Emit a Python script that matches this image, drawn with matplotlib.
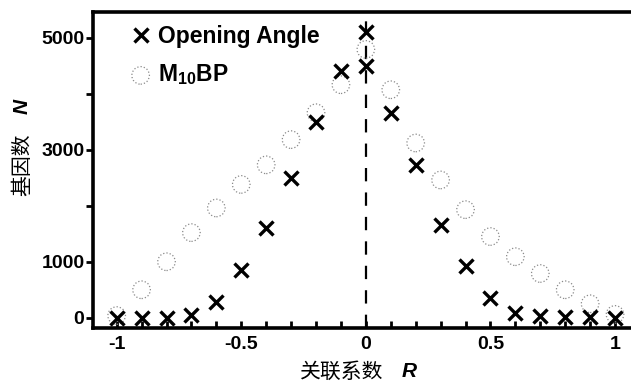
import matplotlib.pyplot as plt
import numpy as np

plt.rcParams['font.family'] = ['Liberation Sans', 'DejaVu Sans']
plt.rcParams['mathtext.fontset'] = 'custom'
plt.rcParams['mathtext.bf'] = 'Liberation Sans:bold'
plt.rcParams['mathtext.rm'] = 'Liberation Sans:bold'

# correlation coefficient bins
r = [-1.0, -0.9, -0.8, -0.7, -0.6, -0.5, -0.4, -0.3, -0.2, -0.1, 0.0,
     0.1, 0.2, 0.3, 0.4, 0.5, 0.6, 0.7, 0.8, 0.9, 1.0]
# Opening Angle (two points at R=0)
oa_r = r[:10] + [0.0, 0.0] + r[11:]
oa_n = [0, 0, 0, 50, 290, 860, 1610, 2500, 3500, 4400, 5100, 4500,
        3660, 2730, 1660, 930, 360, 90, 30, 10, 10, 0]
# M10BP
m10_n = [40, 500, 1000, 1520, 1960, 2380, 2730, 3180, 3660, 4160, 4790,
         4070, 3120, 2460, 1930, 1450, 1090, 790, 500, 250, 60]

fig = plt.figure(figsize=(6.31, 3.83), dpi=100)
ax = fig.add_axes([0.147, 0.144, 0.853, 0.825])

ax.plot(oa_r, oa_n, 'x', color='black', markersize=10.5, markeredgewidth=2.4,
        label='Opening Angle', zorder=3)
ax.scatter(r, m10_n, s=160, facecolors='none', edgecolors='#8a8a8a',
           linewidths=0.9, linestyles=':', label=r'$\mathbf{M_{10}BP}$', zorder=2)
ax.axvline(0, color='black', linestyle=(0, (6, 5)), linewidth=1.6, zorder=1)

ax.set_xlim(-1.096, 1.064)
ax.set_ylim(-180, 5460)
ax.set_xticks([-1, -0.5, 0, 0.5, 1])
ax.set_xticklabels(['-1', '-0.5', '0', '0.5', '1'])
ax.set_xticks(np.arange(-1, 1.01, 0.1), minor=True)
ax.set_yticks([0, 1000, 3000, 5000])
ax.set_yticks([2000, 4000], minor=True)

for s in ['left', 'bottom', 'top']:
    ax.spines[s].set_linewidth(2.6)
ax.spines['right'].set_visible(False)

ax.tick_params(axis='x', which='both', direction='in', length=5, width=2,
               labelsize=14, pad=6)
ax.tick_params(axis='y', which='both', direction='out', length=5, width=2,
               labelsize=14, pad=1)
for lbl in ax.get_xticklabels() + ax.get_yticklabels():
    lbl.set_fontweight('bold')

cjk = ['Noto Sans CJK SC', 'DejaVu Sans']
fig.text(0.475, 0.029, '关联系数', family=cjk, fontsize=15, ha='left', va='center')
fig.text(0.637, 0.029, 'R', fontsize=15, fontweight='bold', style='italic',
         ha='left', va='center')
fig.text(0.035, 0.569, '基因数', family=cjk, fontsize=15, rotation=90,
         ha='center', va='center')
fig.text(0.035, 0.723, 'N', fontsize=15, fontweight='bold', style='italic',
         rotation=90, ha='center', va='center')

leg = ax.legend(loc='upper left', bbox_to_anchor=(0.04, 1.005), frameon=False,
                handletextpad=0.25, borderaxespad=0.35, labelspacing=0.62,
                handlelength=1.0, borderpad=0.3,
                prop={'weight': 'bold', 'size': 16.5})

fig.savefig('out.png', dpi=100)
